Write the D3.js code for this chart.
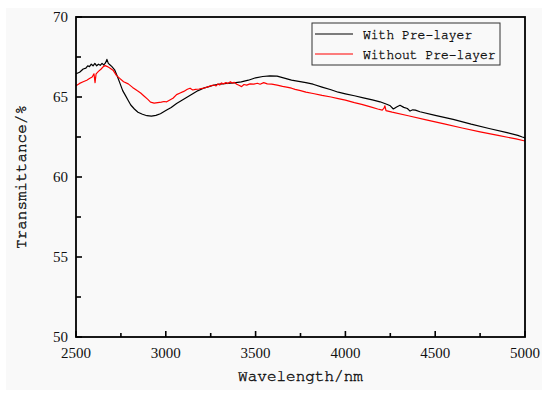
<!DOCTYPE html>
<html>
<head>
<meta charset="utf-8">
<script src="https://cdnjs.cloudflare.com/ajax/libs/d3/7.8.5/d3.min.js"></script>
<style>
  html, body { margin: 0; padding: 0; background: #ffffff; }
  svg { display: block; }
</style>
</head>
<body>
<div id="chart"></div>
<script>
// ---------- Data ----------
const seriesNames = ["With Pre-layer", "Without Pre-layer"];
const seriesColors = ["#000000", "#ff0000"];

const withWl = [2500,2520,2540,2555,2565,2575,2585,2595,2605,2615,2625,2635,2645,2655,2665,2672,2680,2690,2700,2715,2730,2745,2760,2775,2790,2805,2825,2845,2870,2895,2920,2945,2970,3000,3030,3060,3090,3120,3150,3180,3210,3240,3270,3300,3340,3380,3420,3460,3500,3540,3580,3620,3660,3700,3740,3780,3820,3870,3920,3960,4000,4050,4100,4150,4193,4230,4250,4267,4285,4304,4325,4345,4360,4375,4390,4415,4500,4600,4700,4800,4900,4960,4985,5000];
const withT = [66.45,66.55,66.75,66.8,66.95,66.9,67.05,66.95,67.1,66.95,67.05,66.98,67.1,67.0,67.15,67.35,67.1,67.0,66.9,66.7,66.3,65.85,65.4,65.1,64.8,64.5,64.25,64.05,63.92,63.83,63.8,63.85,63.95,64.15,64.35,64.6,64.8,65.0,65.2,65.4,65.55,65.65,65.75,65.8,65.85,65.88,65.95,66.05,66.2,66.28,66.32,66.3,66.18,66.05,65.98,65.9,65.8,65.62,65.45,65.3,65.2,65.08,64.95,64.82,64.7,64.55,64.45,64.25,64.38,64.48,64.35,64.28,64.12,64.2,64.18,64.08,63.85,63.6,63.3,63.03,62.77,62.6,62.5,62.45];

const withoutWl = [2500,2520,2540,2560,2575,2590,2600,2606,2612,2625,2640,2652,2662,2675,2690,2708,2725,2745,2765,2791,2815,2840,2860,2880,2900,2915,2935,2955,2975,2990,3005,3020,3040,3060,3080,3100,3120,3135,3150,3165,3185,3210,3230,3250,3265,3280,3290,3300,3310,3320,3335,3345,3360,3370,3380,3395,3410,3422,3435,3450,3469,3490,3510,3525,3545,3565,3590,3620,3650,3680,3700,3720,3750,3780,3820,3870,3920,3960,4000,4050,4091,4140,4180,4205,4215,4220,4226,4260,4350,4450,4550,4650,4750,4850,4950,5000];
const withoutT = [65.7,65.85,65.95,66.05,66.15,66.25,66.45,65.9,66.45,66.6,66.75,66.9,66.96,66.9,66.8,66.65,66.35,66.15,65.95,65.82,65.6,65.4,65.25,65.05,64.85,64.68,64.62,64.65,64.68,64.72,64.7,64.8,64.92,65.15,65.25,65.35,65.48,65.55,65.44,65.48,65.5,65.55,65.62,65.7,65.75,65.7,65.82,65.75,65.88,65.82,65.9,65.84,65.95,65.86,65.92,65.8,65.72,65.65,65.78,65.74,65.82,65.8,65.86,65.8,65.9,65.82,65.8,65.74,65.66,65.6,65.55,65.48,65.4,65.3,65.22,65.1,65.0,64.9,64.8,64.65,64.54,64.38,64.25,64.18,64.3,64.45,64.15,64.05,63.83,63.57,63.32,63.06,62.82,62.6,62.38,62.25];

const xMajorTicks = [2500, 3000, 3500, 4000, 4500, 5000];
const xMinorTicks = [2750, 3250, 3750, 4250, 4750];
const yMajorTicks = [50, 55, 60, 65, 70];
const yMinorTicks = [52.5, 57.5, 62.5, 67.5];
const xTitle = "Wavelength/nm";
const yTitle = "Transmittance/%";

// ---------- Layout ----------
const W = 550, H = 396;
const plot = { left: 76, right: 525, top: 17, bottom: 337 };
const SERIF = "'Liberation Serif', 'Times New Roman', serif";
const MONO = "'FreeMono', 'Courier New', monospace";

const svg = d3.select("#chart").append("svg")
  .attr("width", W).attr("height", H);

svg.append("rect").attr("x", 0).attr("y", 0).attr("width", W).attr("height", H).attr("fill", "#ffffff");
svg.append("rect").attr("x", 6).attr("y", 8).attr("width", 536).attr("height", 382).attr("fill", "#f9f9f9");

const x = d3.scaleLinear().domain([2500, 5000]).range([plot.left, plot.right]);
const y = d3.scaleLinear().domain([50, 70]).range([plot.bottom, plot.top]);

const series = [
  { name: seriesNames[0], color: seriesColors[0], pts: withWl.map((w, i) => [w, withT[i]]) },
  { name: seriesNames[1], color: seriesColors[1], pts: withoutWl.map((w, i) => [w, withoutT[i]]) }
];

const line = d3.line().x(d => x(d[0])).y(d => y(d[1]));

const gLines = svg.append("g");
series.forEach(s => {
  gLines.append("path")
    .attr("d", line(s.pts))
    .attr("fill", "none")
    .attr("stroke", s.color)
    .attr("stroke-width", 1.2)
    .attr("stroke-linejoin", "round");
});

// ---------- Axes ----------
const gAx = svg.append("g");
gAx.append("rect")
  .attr("x", plot.left).attr("y", plot.top)
  .attr("width", plot.right - plot.left).attr("height", plot.bottom - plot.top)
  .attr("fill", "none").attr("stroke", "#000").attr("stroke-width", 1.8);

gAx.selectAll(".xmaj").data(xMajorTicks).enter().append("line")
  .attr("x1", d => x(d)).attr("x2", d => x(d))
  .attr("y1", plot.bottom).attr("y2", plot.bottom - 6)
  .attr("stroke", "#000").attr("stroke-width", 1.6);
gAx.selectAll(".xmin").data(xMinorTicks).enter().append("line")
  .attr("x1", d => x(d)).attr("x2", d => x(d))
  .attr("y1", plot.bottom).attr("y2", plot.bottom - 4)
  .attr("stroke", "#000").attr("stroke-width", 1.6);
gAx.selectAll(".ymaj").data(yMajorTicks).enter().append("line")
  .attr("x1", plot.left).attr("x2", plot.left + 6)
  .attr("y1", d => y(d)).attr("y2", d => y(d))
  .attr("stroke", "#000").attr("stroke-width", 1.6);
gAx.selectAll(".ymin").data(yMinorTicks).enter().append("line")
  .attr("x1", plot.left).attr("x2", plot.left + 5)
  .attr("y1", d => y(d)).attr("y2", d => y(d))
  .attr("stroke", "#000").attr("stroke-width", 1.6);

gAx.selectAll(".xl").data(xMajorTicks).enter().append("text")
  .attr("x", d => x(d)).attr("y", 358)
  .attr("text-anchor", "middle")
  .style("font-family", SERIF)
  .attr("font-size", 15).attr("fill", "#111")
  .text(d => d);
gAx.selectAll(".yl").data(yMajorTicks).enter().append("text")
  .attr("x", 68).attr("y", d => y(d) + 5)
  .attr("text-anchor", "end")
  .style("font-family", SERIF)
  .attr("font-size", 15).attr("fill", "#111")
  .text(d => d);

// Titles
svg.append("text")
  .attr("x", (plot.left + plot.right) / 2).attr("y", 381)
  .attr("text-anchor", "middle")
  .style("font-family", MONO)
  .attr("font-size", 16).attr("fill", "#111")
  .attr("stroke", "#111").attr("stroke-width", 0.4)
  .text(xTitle);
svg.append("text")
  .attr("transform", "translate(26," + ((plot.top + plot.bottom) / 2) + ") rotate(-90)")
  .attr("text-anchor", "middle")
  .style("font-family", MONO)
  .attr("font-size", 16).attr("fill", "#111")
  .attr("stroke", "#111").attr("stroke-width", 0.4)
  .text(yTitle);

// ---------- Legend ----------
const lg = svg.append("g");
lg.append("rect")
  .attr("x", 312).attr("y", 23).attr("width", 188).attr("height", 42)
  .attr("fill", "#f9f9f9").attr("stroke", "#333").attr("stroke-width", 1);
series.forEach((s, i) => {
  const ly = 34 + i * 20;
  lg.append("line")
    .attr("x1", 315).attr("x2", 353).attr("y1", ly).attr("y2", ly)
    .attr("stroke", s.color).attr("stroke-width", 1.2);
  lg.append("text")
    .attr("x", 363).attr("y", ly + 5)
    .style("font-family", MONO)
    .attr("font-size", 13).attr("fill", "#111")
    .attr("stroke", "#111").attr("stroke-width", 0.35)
    .text(s.name);
});
</script>
</body>
</html>
